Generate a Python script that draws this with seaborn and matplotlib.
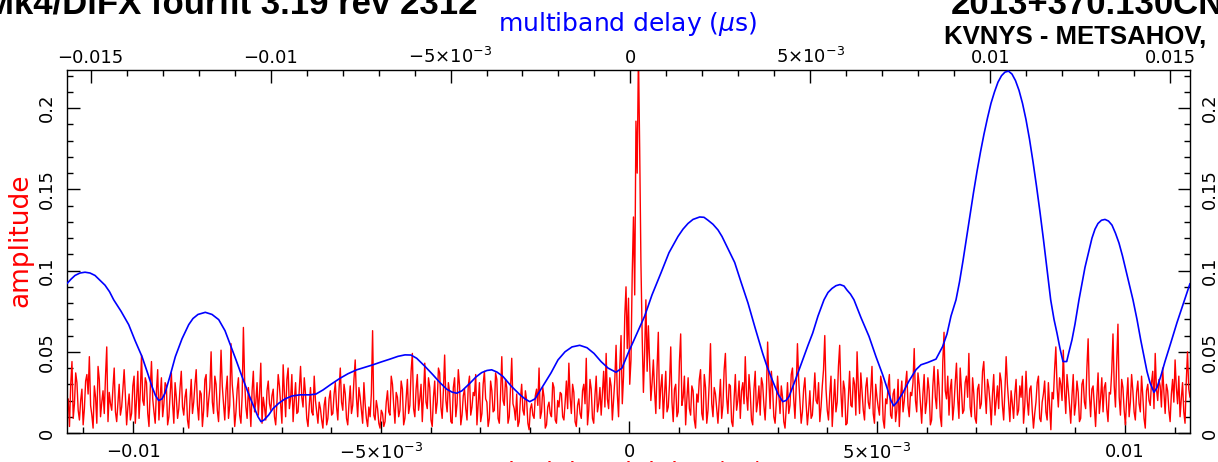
import numpy as np
import pandas as pd
import matplotlib
matplotlib.use("Agg")
import matplotlib.pyplot as plt
from matplotlib.ticker import MultipleLocator, FuncFormatter
import seaborn as sns

# ---------------------------------------------------------------- data
# Singleband delay amplitude (red), sampled on a regular delay grid (µs)
sbd_start, sbd_stop = -0.011331, 0.011310
sbd_amp = [
    0.012, 0.021, 0.004, 0.030, 0.044, 0.009, 0.018, 0.037, 0.031, 0.014,
    0.008, 0.020, 0.027, 0.005, 0.015, 0.032, 0.036, 0.024, 0.047, 0.017,
    0.011, 0.003, 0.029, 0.022, 0.006, 0.041, 0.033, 0.010, 0.019, 0.026,
    0.012, 0.035, 0.053, 0.007, 0.025, 0.018, 0.014, 0.028, 0.040, 0.013,
    0.007, 0.019, 0.030, 0.011, 0.016, 0.027, 0.039, 0.023, 0.005, 0.016,
    0.024, 0.008, 0.012, 0.029, 0.035, 0.006, 0.021, 0.038, 0.009, 0.025,
    0.048, 0.020, 0.017, 0.034, 0.031, 0.012, 0.004, 0.027, 0.044, 0.021,
    0.013, 0.006, 0.026, 0.039, 0.008, 0.022, 0.034, 0.010, 0.018, 0.031,
    0.029, 0.005, 0.010, 0.024, 0.037, 0.018, 0.006, 0.031, 0.022, 0.009,
    0.015, 0.028, 0.038, 0.016, 0.011, 0.022, 0.027, 0.008, 0.003, 0.020,
    0.033, 0.012, 0.019, 0.030, 0.039, 0.017, 0.008, 0.026, 0.024, 0.004,
    0.014, 0.033, 0.036, 0.010, 0.020, 0.028, 0.050, 0.019, 0.012, 0.035,
    0.030, 0.014, 0.007, 0.025, 0.051, 0.029, 0.018, 0.008, 0.026, 0.035,
    0.009, 0.017, 0.055, 0.030, 0.021, 0.004, 0.013, 0.027, 0.034, 0.011,
    0.006, 0.023, 0.065, 0.032, 0.016, 0.009, 0.028, 0.019, 0.004, 0.026,
    0.038, 0.013, 0.019, 0.031, 0.011, 0.024, 0.043, 0.006, 0.022, 0.016,
    0.008, 0.026, 0.032, 0.018, 0.014, 0.023, 0.027, 0.010, 0.005, 0.019,
    0.036, 0.029, 0.017, 0.006, 0.042, 0.025, 0.010, 0.033, 0.040, 0.015,
    0.021, 0.036, 0.007, 0.020, 0.031, 0.012, 0.013, 0.027, 0.041, 0.022,
    0.016, 0.034, 0.024, 0.009, 0.004, 0.017, 0.028, 0.013, 0.011, 0.035,
    0.020, 0.013, 0.006, 0.019, 0.015, 0.008, 0.003, 0.017, 0.022, 0.005,
    0.009, 0.021, 0.026, 0.011, 0.012, 0.024, 0.031, 0.016, 0.008, 0.027,
    0.040, 0.019, 0.014, 0.030, 0.024, 0.009, 0.005, 0.018, 0.029, 0.012,
    0.017, 0.033, 0.045, 0.022, 0.010, 0.028, 0.022, 0.014, 0.006, 0.031,
    0.018, 0.009, 0.004, 0.016, 0.010, 0.024, 0.063, 0.011, 0.008, 0.020,
    0.015, 0.006, 0.003, 0.014, 0.012, 0.004, 0.007, 0.019, 0.026, 0.013,
    0.011, 0.035, 0.030, 0.017, 0.006, 0.025, 0.022, 0.010, 0.014, 0.032,
    0.027, 0.005, 0.009, 0.021, 0.033, 0.012, 0.017, 0.038, 0.049, 0.015,
    0.010, 0.027, 0.036, 0.014, 0.021, 0.030, 0.007, 0.024, 0.043, 0.019,
    0.015, 0.034, 0.028, 0.008, 0.004, 0.022, 0.032, 0.012, 0.019, 0.040,
    0.037, 0.016, 0.009, 0.026, 0.048, 0.020, 0.013, 0.031, 0.025, 0.007,
    0.006, 0.028, 0.034, 0.010, 0.018, 0.039, 0.029, 0.005, 0.011, 0.023,
    0.027, 0.015, 0.008, 0.029, 0.035, 0.011, 0.016, 0.025, 0.023, 0.036,
    0.005, 0.018, 0.031, 0.007, 0.012, 0.030, 0.038, 0.021, 0.019, 0.004,
    0.009, 0.032, 0.026, 0.013, 0.014, 0.037, 0.033, 0.009, 0.006, 0.024,
    0.047, 0.020, 0.017, 0.033, 0.028, 0.006, 0.010, 0.027, 0.046, 0.018,
    0.015, 0.008, 0.024, 0.004, 0.007, 0.021, 0.030, 0.014, 0.011, 0.026,
    0.020, 0.006, 0.002, 0.015, 0.018, 0.011, 0.009, 0.023, 0.027, 0.017,
    0.040, 0.009, 0.013, 0.028, 0.022, 0.003, 0.005, 0.016, 0.019, 0.012,
    0.010, 0.031, 0.028, 0.008, 0.006, 0.020, 0.016, 0.025, 0.024, 0.010,
    0.008, 0.019, 0.032, 0.015, 0.043, 0.022, 0.012, 0.030, 0.025, 0.007,
    0.004, 0.017, 0.021, 0.012, 0.009, 0.026, 0.030, 0.018, 0.046, 0.005,
    0.014, 0.033, 0.027, 0.009, 0.006, 0.023, 0.035, 0.013, 0.018, 0.028,
    0.011, 0.024, 0.038, 0.016, 0.049, 0.021, 0.015, 0.034, 0.029, 0.008,
    0.020, 0.033, 0.054, 0.024, 0.010, 0.041, 0.060, 0.018, 0.035, 0.072,
    0.090, 0.052, 0.083, 0.030, 0.045, 0.098, 0.133, 0.085, 0.192, 0.160,
    0.235, 0.175, 0.105, 0.060, 0.025, 0.050, 0.082, 0.038, 0.066, 0.044,
    0.020, 0.031, 0.045, 0.026, 0.012, 0.040, 0.062, 0.015, 0.028, 0.036,
    0.009, 0.024, 0.038, 0.013, 0.016, 0.030, 0.053, 0.019, 0.007, 0.027,
    0.030, 0.010, 0.013, 0.044, 0.061, 0.017, 0.022, 0.035, 0.005, 0.021,
    0.034, 0.015, 0.011, 0.029, 0.026, 0.008, 0.003, 0.024, 0.019, 0.033,
    0.039, 0.012, 0.008, 0.036, 0.028, 0.006, 0.014, 0.031, 0.055, 0.018,
    0.010, 0.028, 0.024, 0.015, 0.006, 0.020, 0.033, 0.009, 0.017, 0.039,
    0.049, 0.022, 0.012, 0.030, 0.029, 0.007, 0.004, 0.021, 0.036, 0.014,
    0.020, 0.032, 0.009, 0.026, 0.031, 0.018, 0.047, 0.023, 0.014, 0.036,
    0.025, 0.008, 0.005, 0.027, 0.038, 0.013, 0.019, 0.029, 0.011, 0.034,
    0.030, 0.017, 0.008, 0.025, 0.056, 0.032, 0.015, 0.038, 0.027, 0.010,
    0.006, 0.019, 0.035, 0.023, 0.012, 0.029, 0.022, 0.007, 0.003, 0.016,
    0.031, 0.012, 0.017, 0.036, 0.040, 0.021, 0.009, 0.028, 0.055, 0.033,
    0.020, 0.006, 0.013, 0.027, 0.034, 0.018, 0.005, 0.014, 0.026, 0.009,
    0.011, 0.023, 0.037, 0.020, 0.018, 0.031, 0.007, 0.016, 0.029, 0.039,
    0.060, 0.027, 0.014, 0.008, 0.024, 0.035, 0.004, 0.018, 0.033, 0.013,
    0.019, 0.041, 0.054, 0.025, 0.010, 0.032, 0.027, 0.005, 0.006, 0.022,
    0.038, 0.017, 0.016, 0.034, 0.030, 0.011, 0.050, 0.028, 0.012, 0.037,
    0.025, 0.014, 0.008, 0.028, 0.034, 0.019, 0.015, 0.026, 0.041, 0.012,
    0.006, 0.030, 0.022, 0.016, 0.011, 0.035, 0.031, 0.008, 0.003, 0.021,
    0.018, 0.029, 0.036, 0.011, 0.009, 0.024, 0.027, 0.007, 0.014, 0.033,
    0.004, 0.022, 0.032, 0.013, 0.020, 0.030, 0.038, 0.017, 0.010, 0.025,
    0.023, 0.031, 0.052, 0.020, 0.013, 0.037, 0.030, 0.018, 0.006, 0.024,
    0.036, 0.012, 0.019, 0.034, 0.026, 0.005, 0.008, 0.029, 0.041, 0.022,
    0.015, 0.039, 0.028, 0.010, 0.004, 0.044, 0.062, 0.026, 0.021, 0.035,
    0.011, 0.027, 0.033, 0.008, 0.017, 0.031, 0.043, 0.021, 0.009, 0.040,
    0.027, 0.012, 0.014, 0.031, 0.035, 0.022, 0.049, 0.016, 0.010, 0.034,
    0.024, 0.009, 0.006, 0.027, 0.030, 0.015, 0.018, 0.038, 0.044, 0.025,
    0.012, 0.033, 0.028, 0.019, 0.005, 0.024, 0.036, 0.011, 0.020, 0.029,
    0.015, 0.037, 0.032, 0.017, 0.008, 0.026, 0.047, 0.030, 0.019, 0.007,
    0.026, 0.018, 0.009, 0.024, 0.033, 0.011, 0.014, 0.029, 0.022, 0.035,
    0.006, 0.017, 0.038, 0.020, 0.011, 0.027, 0.029, 0.014, 0.003, 0.012,
    0.019, 0.031, 0.035, 0.009, 0.007, 0.019, 0.024, 0.032, 0.013, 0.008,
    0.031, 0.016, 0.002, 0.025, 0.021, 0.039, 0.053, 0.028, 0.016, 0.034,
    0.030, 0.020, 0.051, 0.026, 0.012, 0.036, 0.027, 0.017, 0.006, 0.023,
    0.036, 0.011, 0.018, 0.032, 0.025, 0.007, 0.009, 0.030, 0.033, 0.019,
    0.015, 0.040, 0.058, 0.024, 0.010, 0.027, 0.029, 0.016, 0.004, 0.022,
    0.037, 0.012, 0.021, 0.034, 0.013, 0.028, 0.031, 0.015, 0.007, 0.025,
    0.024, 0.038, 0.061, 0.029, 0.016, 0.044, 0.067, 0.022, 0.011, 0.033,
    0.028, 0.014, 0.005, 0.021, 0.034, 0.010, 0.019, 0.036, 0.026, 0.013,
    0.008, 0.025, 0.032, 0.018, 0.013, 0.035, 0.023, 0.009, 0.003, 0.026,
    0.030, 0.020, 0.017, 0.031, 0.038, 0.015, 0.049, 0.027, 0.020, 0.033,
    0.029, 0.016, 0.040, 0.025, 0.012, 0.030, 0.026, 0.014, 0.007, 0.024,
    0.033, 0.019, 0.045, 0.028, 0.018, 0.035, 0.010, 0.021, 0.031, 0.013,
    0.006, 0.032, 0.050, 0.027, 0.022,
]

# Multiband delay amplitude (blue); delays listed in units of 1e-3 µs
mbd_delay_milli = [
    -15.653, -15.542, -15.431, -15.292, -15.153, -15.014, -14.875, -14.736,
    -14.597, -14.472, -14.356, -14.153, -13.939, -13.764, -13.569, -13.431,
    -13.292, -13.194, -13.106, -13.014, -12.931, -12.792, -12.644, -12.458,
    -12.272, -12.153, -12.014, -11.811, -11.625, -11.439, -11.264, -11.117,
    -10.958, -10.792, -10.625, -10.467, -10.347, -10.264, -10.181, -10.050,
    -9.931, -9.772, -9.597, -9.403, -9.181, -8.903, -8.736, -8.542,
    -8.319, -8.069, -7.847, -7.606, -7.375, -7.153, -6.931, -6.681,
    -6.458, -6.264, -6.097, -5.939, -5.708, -5.486, -5.292, -5.106,
    -4.958, -4.828, -4.681, -4.458, -4.292, -4.133, -3.986, -3.856,
    -3.708, -3.542, -3.319, -3.069, -2.931, -2.800, -2.653, -2.458,
    -2.208, -2.014, -1.819, -1.625, -1.411, -1.208, -1.014, -0.819,
    -0.625, -0.403, -0.236, -0.069, 0.153, 0.394, 0.597, 0.847,
    1.069, 1.208, 1.319, 1.458, 1.597, 1.736, 1.922, 2.042,
    2.153, 2.292, 2.431, 2.542, 2.653, 2.894, 3.069, 3.264,
    3.458, 3.672, 3.792, 3.950, 4.097, 4.228, 4.319, 4.403,
    4.569, 4.783, 4.931, 5.061, 5.208, 5.375, 5.486, 5.597,
    5.708, 5.819, 5.931, 6.014, 6.111, 6.208, 6.403, 6.625,
    6.819, 7.006, 7.153, 7.236, 7.311, 7.403, 7.561, 7.736,
    7.931, 8.069, 8.256, 8.486, 8.672, 8.792, 8.903, 9.042,
    9.139, 9.236, 9.333, 9.431, 9.528, 9.625, 9.722, 9.819,
    9.917, 10.014, 10.111, 10.208, 10.306, 10.403, 10.500, 10.597,
    10.694, 10.792, 10.889, 10.986, 11.083, 11.181, 11.278, 11.375,
    11.472, 11.569, 11.672, 11.764, 11.847, 11.931, 12.014, 12.117,
    12.181, 12.264, 12.347, 12.458, 12.625, 12.722, 12.819, 12.903,
    12.986, 13.083, 13.181, 13.278, 13.375, 13.472, 13.569, 13.667,
    13.764, 13.861, 13.958, 14.069, 14.172, 14.264, 14.347, 14.431,
    14.542, 14.625, 14.728, 14.847, 15.006, 15.181, 15.375, 15.542,
]
mbd_amp = [
    0.092, 0.0947, 0.097, 0.0985, 0.099, 0.0985, 0.097, 0.094,
    0.091, 0.087, 0.082, 0.075, 0.0667, 0.057, 0.047, 0.038,
    0.0286, 0.023, 0.020, 0.021, 0.0245, 0.035, 0.047, 0.058,
    0.0667, 0.0705, 0.073, 0.0743, 0.073, 0.0698, 0.063, 0.0543,
    0.045, 0.0348, 0.025, 0.0163, 0.010, 0.007, 0.008, 0.0111,
    0.015, 0.0183, 0.021, 0.0228, 0.0235, 0.0235, 0.024, 0.0265,
    0.030, 0.0337, 0.0365, 0.0389, 0.0405, 0.042, 0.0437, 0.0455,
    0.0472, 0.0481, 0.048, 0.046, 0.041, 0.0358, 0.031, 0.027,
    0.0252, 0.0245, 0.026, 0.0307, 0.0345, 0.0372, 0.0385, 0.0389,
    0.0375, 0.0348, 0.029, 0.0235, 0.021, 0.0193, 0.021, 0.028,
    0.037, 0.045, 0.050, 0.053, 0.054, 0.0525, 0.049, 0.044,
    0.040, 0.0374, 0.040, 0.049, 0.060, 0.072, 0.085, 0.0986,
    0.111, 0.1165, 0.121, 0.1255, 0.129, 0.1315, 0.133, 0.1328,
    0.131, 0.1285, 0.125, 0.121, 0.116, 0.105, 0.093, 0.080,
    0.065, 0.049, 0.041, 0.032, 0.024, 0.0193, 0.020, 0.0224,
    0.032, 0.045, 0.054, 0.0615, 0.072, 0.082, 0.0865, 0.089,
    0.0907, 0.0914, 0.0905, 0.088, 0.0855, 0.082, 0.071, 0.0595,
    0.047, 0.0358, 0.026, 0.020, 0.0167, 0.019, 0.0245, 0.032,
    0.039, 0.042, 0.0434, 0.0455, 0.0533, 0.061, 0.072, 0.082,
    0.093, 0.106, 0.120, 0.134, 0.148, 0.161, 0.173, 0.184,
    0.194, 0.203, 0.210, 0.216, 0.220, 0.2222, 0.2228, 0.221,
    0.217, 0.211, 0.203, 0.193, 0.181, 0.167, 0.152, 0.136,
    0.119, 0.101, 0.082, 0.070, 0.0615, 0.052, 0.044, 0.044,
    0.050, 0.0574, 0.067, 0.082, 0.102, 0.111, 0.120, 0.1255,
    0.129, 0.131, 0.1315, 0.1305, 0.128, 0.123, 0.117, 0.109,
    0.100, 0.091, 0.082, 0.070, 0.0574, 0.047, 0.0379, 0.031,
    0.025, 0.028, 0.0348, 0.044, 0.0553, 0.068, 0.081, 0.092,
]

mbd_range = (-0.015653, 0.015542)
amp_range = (0.0, 0.2235)
title_left = "Mk4/DiFX fourfit 3.19 rev 2312"
title_right = "2013+370.130CN"
baseline_label = "KVNYS - METSAHOV,"

# ---------------------------------------------------------------- frames
sbd_df = pd.DataFrame({
    "delay": np.linspace(sbd_start, sbd_stop, len(sbd_amp)),
    "amplitude": sbd_amp,
})
mbd_df = pd.DataFrame({
    "delay": np.asarray(mbd_delay_milli) * 1e-3,
    "amplitude": mbd_amp,
})

# ---------------------------------------------------------------- style
sns.set_theme(style="white")
plt.rcParams["font.family"] = ["DejaVu Sans"]
plt.rcParams["axes.edgecolor"] = "black"
plt.rcParams["axes.linewidth"] = 1.0

W, H = 1218, 462
fig = plt.figure(figsize=(W / 100, H / 100), dpi=100)
fig.patch.set_facecolor("white")
ax = fig.add_axes([67 / W, (H - 433) / H, (1190 - 67) / W, (433 - 70) / H])
ax_top = ax.twiny()


def delay_fmt(v, pos):
    if abs(v) < 1e-12:
        return "0"
    if abs(abs(v) - 0.005) < 1e-9:
        return ("\u2212" if v < 0 else "") + r"5$\times$10$^{\mathregular{-3}}$"
    return f"{v:g}".replace("-", "\u2212")


def amp_fmt(v, pos):
    return "0" if abs(v) < 1e-12 else f"{v:g}"


# singleband delay, red, on the bottom axis
sns.lineplot(data=sbd_df, x="delay", y="amplitude", ax=ax, color="#ff0000",
             linewidth=1.0, estimator=None, sort=False, legend=False)
# multiband delay, blue, on the top axis
sns.lineplot(data=mbd_df, x="delay", y="amplitude", ax=ax_top, color="#0000ff",
             linewidth=1.2, estimator=None, sort=False, legend=False)

ax.set_xlim(sbd_start, sbd_stop)
ax_top.set_xlim(*mbd_range)
ax.set_ylim(*amp_range)
ax_top.set_ylim(*amp_range)

for a in (ax, ax_top):
    a.set_xlabel("")
    a.set_ylabel("")

ax.xaxis.set_major_locator(MultipleLocator(0.005))
ax.xaxis.set_minor_locator(MultipleLocator(0.001))
ax.xaxis.set_major_formatter(FuncFormatter(delay_fmt))
ax_top.xaxis.set_major_locator(MultipleLocator(0.005))
ax_top.xaxis.set_minor_locator(MultipleLocator(0.001))
ax_top.xaxis.set_major_formatter(FuncFormatter(delay_fmt))
ax.yaxis.set_major_locator(MultipleLocator(0.05))
ax.yaxis.set_minor_locator(MultipleLocator(0.01))
ax.yaxis.set_major_formatter(FuncFormatter(amp_fmt))

tick_font = 13
ax.tick_params(axis="x", which="both", direction="in", bottom=True, top=False,
               labelsize=tick_font, colors="black", pad=7)
ax.tick_params(axis="y", which="both", direction="in", left=True, right=True,
               labelleft=True, labelright=True, labelsize=tick_font,
               colors="black", pad=8, labelrotation=90)
ax.tick_params(which="major", length=9, width=1.0)
ax.tick_params(which="minor", length=4.5, width=1.0)
ax_top.tick_params(axis="x", which="both", direction="in", top=True,
                   bottom=False, labeltop=True, labelbottom=False,
                   labelsize=tick_font, colors="black", pad=2)
ax_top.tick_params(which="major", length=9, width=1.0)
ax_top.tick_params(which="minor", length=4.5, width=1.0)
ax_top.tick_params(axis="y", left=False, right=False, labelleft=False,
                   labelright=False)

for t in ax.yaxis.get_major_ticks():
    t.label1.set_verticalalignment("center")
    t.label2.set_verticalalignment("center")

for sp in ax.spines.values():
    sp.set_color("black")
    sp.set_linewidth(1.0)
for sp in ax_top.spines.values():
    sp.set_visible(False)


def px(x, y):
    return x / W, 1 - y / H


# axis titles
fig.text(*px(628, 31), r"multiband delay ($\mu$s)", color="#0000ff",
         fontsize=18, ha="center", va="baseline")
fig.text(*px(20, 240), "amplitude", color="#ff0000", fontsize=19,
         rotation=90, ha="center", va="center")
fig.text(*px(629, 459), r"singleband delay ($\mu$s)", color="#ff0000",
         fontsize=18, ha="center", va="top")

# header
hdr_family = ["Liberation Sans", "DejaVu Sans"]
fig.text(*px(-15, 13.6), title_left, fontsize=25, fontweight="bold",
         family=hdr_family, color="black", ha="left", va="baseline")
fig.text(*px(951, 13.6), title_right, fontsize=25, fontweight="bold",
         family=hdr_family, color="black", ha="left", va="baseline")
fig.text(*px(944, 44), baseline_label, fontsize=18.5, fontweight="bold",
         family=hdr_family, color="black", ha="left", va="baseline")

fig.savefig("out.png", dpi=100, facecolor="white")
